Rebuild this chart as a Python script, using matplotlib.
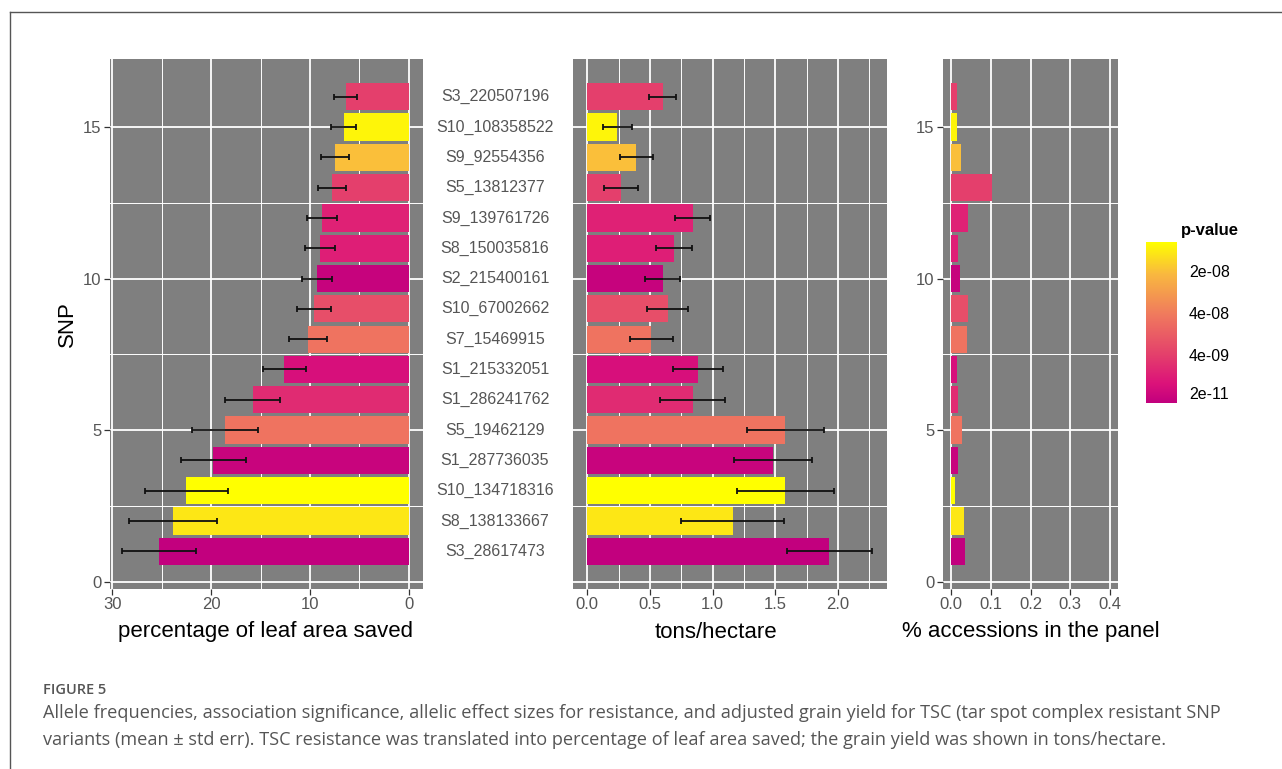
import matplotlib
matplotlib.use('Agg')
import numpy as np
import matplotlib.pyplot as plt
import matplotlib.colors as colors
from matplotlib.lines import Line2D

# SNPs from bottom (y=1) to top (y=16)
snps = ['S3_28617473', 'S8_138133667', 'S10_134718316', 'S1_287736035',
        'S5_19462129', 'S1_286241762', 'S1_215332051', 'S7_15469915',
        'S10_67002662', 'S2_215400161', 'S8_150035816', 'S9_139761726',
        'S5_13812377', 'S9_92554356', 'S10_108358522', 'S3_220507196']
leaf_saved = [25.3, 23.9, 22.5, 19.8, 18.6, 15.8, 12.6, 10.2,
              9.6, 9.3, 9.0, 8.8, 7.8, 7.5, 6.6, 6.4]
leaf_err = [3.75, 4.45, 4.2, 3.3, 3.35, 2.8, 2.2, 1.9,
            1.75, 1.5, 1.55, 1.55, 1.4, 1.4, 1.25, 1.2]
grain_yield = [1.93, 1.16, 1.58, 1.48, 1.58, 0.84, 0.88, 0.51,
               0.64, 0.60, 0.69, 0.84, 0.27, 0.39, 0.24, 0.60]
yield_err = [0.34, 0.41, 0.385, 0.31, 0.31, 0.26, 0.2, 0.17,
             0.165, 0.14, 0.145, 0.14, 0.135, 0.13, 0.115, 0.105]
accession_frac = [0.036, 0.034, 0.011, 0.018, 0.029, 0.018, 0.014, 0.041,
                  0.043, 0.023, 0.018, 0.043, 0.104, 0.024, 0.016, 0.014]
# colour position on the p-value scale (0 = magenta end, 1 = yellow end)
p_score = [0.0, 0.93, 1.0, 0.03, 0.52, 0.22, 0.1, 0.52,
           0.36, 0.02, 0.17, 0.18, 0.3, 0.82, 0.97, 0.3]
pval_ticks = [0.05, 0.29, 0.55, 0.81]
pval_labels = ['2e-11', '4e-09', '4e-08', '2e-08']

W, H = 1282, 769
fig = plt.figure(figsize=(W / 100, H / 100), dpi=100)
plt.rcParams['font.family'] = ['Liberation Sans', 'DejaVu Sans']

cmap = colors.LinearSegmentedColormap.from_list('pval', [
    (0.0, '#c2007e'), (0.12, '#dc127a'), (0.3, '#e4406c'),
    (0.55, '#f07a5e'), (0.8, '#f9b840'), (1.0, '#ffff00')])

PANEL = '#7f7f7f'
TICKC = '#555555'
ypos = np.arange(1, len(snps) + 1)


def px_axes(x0, y0, x1, y1):
    return fig.add_axes([x0 / W, 1 - y1 / H, (x1 - x0) / W, (y1 - y0) / H])


def style(ax, xmajor, xminor):
    ax.set_facecolor(PANEL)
    for s in ax.spines.values():
        s.set_visible(False)
    ax.set_ylim(-0.245, 17.245)
    ax.set_yticks([0, 5, 10, 15])
    ax.set_yticks([2.5, 7.5, 12.5], minor=True)
    ax.set_xticks(xmajor)
    ax.set_xticks(xminor, minor=True)
    ax.grid(True, which='major', color='white', lw=1.3)
    ax.grid(True, which='minor', color='white', lw=0.7)
    ax.set_axisbelow(True)
    ax.tick_params(which='major', length=4, width=0.9, color='#333333',
                   labelcolor=TICKC, labelsize=12, pad=2)
    ax.tick_params(which='minor', length=0)


bar_colors = [cmap(v) for v in p_score]

# left panel: leaf area saved (reversed axis)
ax1 = px_axes(110, 59, 423, 589)
style(ax1, [0, 10, 20, 30], [5, 15, 25])
ax1.barh(ypos, leaf_saved, height=0.9, color=bar_colors, zorder=2)
ax1.errorbar(leaf_saved, ypos, xerr=leaf_err, fmt='none', ecolor='#111111',
             elinewidth=1.3, capsize=2.2, capthick=1.3, zorder=3)
ax1.set_xlim(30.24, -1.44)
ax1.set_ylabel('SNP', fontsize=16, labelpad=4)

# middle panel: grain yield
ax2 = px_axes(573, 59, 887, 589)
style(ax2, [0, 0.5, 1.0, 1.5, 2.0], [0.25, 0.75, 1.25, 1.75, 2.25])
ax2.barh(ypos, grain_yield, height=0.9, color=bar_colors, zorder=2)
ax2.errorbar(grain_yield, ypos, xerr=yield_err, fmt='none', ecolor='#111111',
             elinewidth=1.3, capsize=2.2, capthick=1.3, zorder=3)
ax2.set_xlim(-0.114, 2.39)
ax2.set_xticklabels(['0.0', '0.5', '1.0', '1.5', '2.0'])
ax2.tick_params(axis='y', which='both', length=0, labelleft=False)
for y, name in zip(ypos, snps):
    ax2.text((495 - 573) / 314, y, name, transform=ax2.get_yaxis_transform(),
             ha='center', va='center', fontsize=11.5, color=TICKC)

# right panel: share of accessions
ax3 = px_axes(943, 59, 1118, 589)
style(ax3, [0, 0.1, 0.2, 0.3, 0.4], [])
ax3.barh(ypos, accession_frac, height=0.9, color=bar_colors, zorder=2)
ax3.set_xlim(-0.02, 0.42)
ax3.set_xticklabels(['0.0', '0.1', '0.2', '0.3', '0.4'])

# axis titles
fig.text(265 / W, 1 - 632 / H, 'percentage of leaf area saved', fontsize=16,
         ha='center', va='center')
fig.text(716 / W, 1 - 632 / H, 'tons/hectare', fontsize=16,
         ha='center', va='center')
fig.text(1031 / W, 1 - 632 / H, '% accessions in the panel', fontsize=16,
         ha='center', va='center')

# p-value colour bar
cax = px_axes(1146, 242, 1177, 403)
grad = np.linspace(0, 1, 256).reshape(-1, 1)
cax.imshow(grad, aspect='auto', cmap=cmap, origin='lower', extent=[0, 1, 0, 1])
cax.set_xticks([])
cax.set_yticks([])
for s in cax.spines.values():
    s.set_visible(False)
for t, lab in zip(pval_ticks, pval_labels):
    fig.text(1189 / W, 1 - (403 - t * 161) / H, lab, fontsize=11.5,
             ha='left', va='center')
fig.text(1181 / W, 1 - 230 / H, 'p-value', fontsize=12, fontweight='bold',
         ha='left', va='center')

# outer frame (left and top edges)
fig.add_artist(Line2D([9.5 / W, 9.5 / W], [0, 1 - 12.3 / H], color='#555555', lw=1))
fig.add_artist(Line2D([9.5 / W, 1], [1 - 12.3 / H, 1 - 12.3 / H], color='#555555', lw=1))

# caption
cap = dict(family=['Open Sans', 'DejaVu Sans'], color='#555555', ha='left', va='center')
fig.text(43 / W, 1 - 690 / H, 'FIGURE 5', fontsize=10.5, fontweight='semibold', **cap)
fig.text(43 / W, 1 - 713 / H,
         'Allele frequencies, association significance, allelic effect sizes for resistance, '
         'and adjusted grain yield for TSC (tar spot complex resistant SNP', fontsize=13.1, **cap)
fig.text(43 / W, 1 - 740 / H,
         'variants (mean \u00b1 std err). TSC resistance was translated into percentage of leaf '
         'area saved; the grain yield was shown in tons/hectare.', fontsize=13.1, **cap)

fig.savefig('out.png', dpi=100)
